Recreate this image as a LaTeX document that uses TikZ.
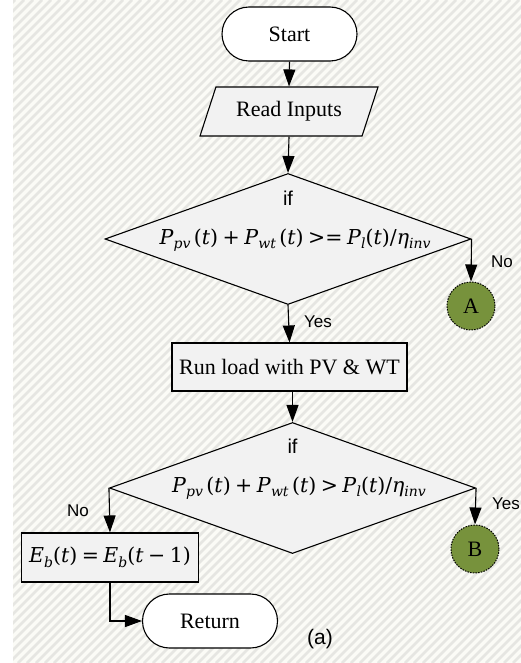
\documentclass[tikz,border=0pt]{standalone}
\usepackage{fontspec}
\setmainfont{Liberation Serif}
\newfontfamily\arialf{Liberation Sans}
\newfontfamily\fmf{DejaVu Serif}
\usetikzlibrary{shapes.geometric,arrows.meta}
\definecolor{shapegray}{HTML}{F2F2F2}
\definecolor{olivec}{HTML}{77923C}
\definecolor{bgcol}{HTML}{FBFBF6}
\definecolor{stripec}{HTML}{E6E6E2}
\newcommand{\mvar}[1]{\textit{#1}}
\newcommand{\msub}[1]{\raisebox{-4.5pt}{\fontsize{14}{16}\selectfont\itshape #1}}
\newcommand{\mop}[1]{\hspace{4.5pt}#1\hspace{4.5pt}}
\begin{document}
\begin{tikzpicture}[x=1pt,y=-1pt,
  base/.style={draw=black, line width=1.1pt, inner sep=0pt, font=\fontsize{22}{26}\selectfont},
  term/.style={base, fill=white, rounded corners=27pt, minimum width=135pt, minimum height=54pt},
  io/.style={base, fill=shapegray, trapezium, trapezium left angle=60, trapezium right angle=120, trapezium stretches=true, minimum width=178pt, minimum height=49pt},
  proc/.style={base, fill=shapegray, rectangle},
  dec/.style={base, fill=shapegray, diamond, minimum width=366pt, minimum height=131pt},
  conn/.style={base, circle, fill=olivec, line width=1pt, dash pattern=on 1.5pt off 1.2pt, minimum size=48pt},
  arr/.style={line width=1.1pt, -{Triangle[length=17pt,width=12pt]}},
  lbl/.style={font=\arialf\fontsize{17}{20}\selectfont, inner sep=0pt},
  iflbl/.style={font=\arialf\fontsize{20}{24}\selectfont, inner sep=0pt},
  fm/.style={font=\fmf\fontsize{20.5}{24}\selectfont, inner sep=0pt},
  stripe/.style={draw=stripec, line width=2.6pt}
]
\useasboundingbox (0,0) rectangle (521,663);
\fill[bgcol] (13,0) rectangle (521,663);
\begin{scope}
  \clip (13,0) rectangle (521,663);
  \foreach \k in {-666,-657,...,530} \draw[stripe] (\k,663) -- (\k+663,0);
\end{scope}

\node[term] (start) at (289.5,34) {Start};
\node[io] (read) at (289,111.5) {Read Inputs};
\node[dec] (d1) at (288,239) {};
\node[iflbl] (if1) at (288,198) {if};
\node[fm] (f1) at (295,240) {\mvar{P}\msub{pv}\,(\mvar{t})\mop{+}\mvar{P}\msub{wt}\,(\mvar{t})\mop{>=}\mvar{P}\msub{l}(\mvar{t})/\mvar{η}\msub{inv}};
\node[conn] (A) at (471,306) {A};
\node[proc, minimum width=235pt, minimum height=48pt] (run) at (289.5,367) {Run load with PV \& WT};
\node[dec] (d2) at (292.5,488) {};
\node[iflbl] (if2) at (292.5,446) {if};
\node[fm] (f2) at (299,488) {\mvar{P}\msub{pv}\,(\mvar{t})\mop{+}\mvar{P}\msub{wt}\,(\mvar{t})\mop{>}\mvar{P}\msub{l}(\mvar{t})/\mvar{η}\msub{inv}};
\node[conn] (B) at (475,549) {B};
\node[proc, minimum width=177pt, minimum height=49pt] (eb) at (110,557.5) {\fmf\fontsize{20.5}{24}\selectfont\mvar{E}\msub{b}(\mvar{t})\mop{=}\mvar{E}\msub{b}(\mvar{t}\mop{−}1)};
\node[term] (ret) at (210,621) {Return};

\draw[arr] (start.south) -- (read.north);
\draw[arr] (read.south) -- (d1.north);
\draw[arr] (d1.east) -- (A.north);
\draw[arr] (d1.south) -- (run.north);
\draw[arr] (d2.north |- run.south) -- (d2.north);
\draw[arr] (d2.west) -- (eb.north);
\draw[arr] (d2.east) -- (B.north);
\draw[arr] (eb.south) |- (ret.west);

\node[lbl] (no1) at (502,262) {No};
\node[lbl] (yes1) at (318,322) {Yes};
\node[lbl] (no2) at (78,511) {No};
\node[lbl] (yes2) at (506,504) {Yes};
\node[font=\arialf\fontsize{21}{25}\selectfont, inner sep=0pt] (cap) at (320,639) {(a)};
\end{tikzpicture}
\end{document}
